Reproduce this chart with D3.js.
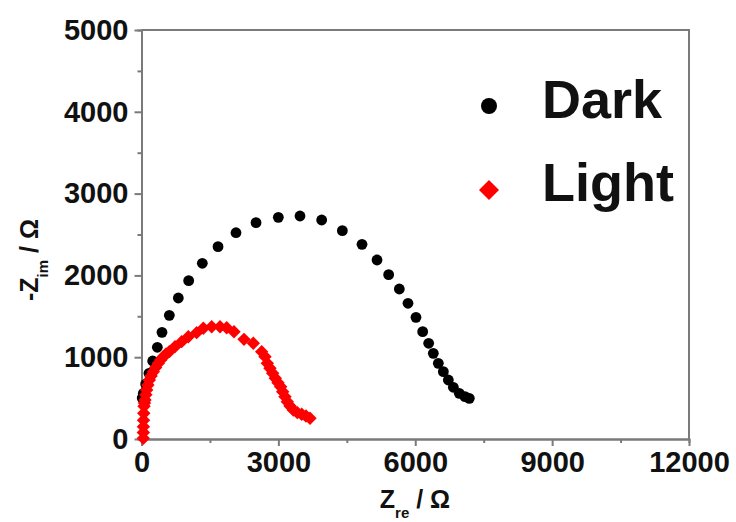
<!DOCTYPE html>
<meta charset="utf-8">
<style>
  body { margin: 0; background: #fff; }
  text { font-family: "Liberation Sans", Arial, sans-serif; font-weight: bold; fill: #111; }
  .axis path, .axis line { stroke: #7a7a7a; stroke-width: 2; }
  .axis text { font-size: 29px; }
  .frame { fill: none; stroke: #7a7a7a; stroke-width: 2; }
</style>
<body>
<script src="https://cdn.jsdelivr.net/npm/d3@7"></script>
<script>
var width = 736, height = 522;
var margin = {left: 141.5, right: 47, top: 30, bottom: 83};

// Dark series: [Z_re, -Z_im] in ohm
var darkRe = [15, 40, 91, 164, 245, 347, 449, 610, 807, 1034, 1333, 1677, 2071, 2510, 2999, 3474, 3949, 4402, 4833, 5162, 5417, 5651, 5841, 6016, 6163, 6294, 6396, 6506, 6616, 6725, 6835, 6966, 7090, 7185];
var darkIm = [500, 558, 672, 803, 954, 1121, 1304, 1512, 1724, 1936, 2148, 2351, 2522, 2645, 2710, 2726, 2677, 2547, 2380, 2188, 2009, 1834, 1659, 1487, 1312, 1170, 1047, 925, 823, 721, 632, 558, 518, 497];

// Light series
var lightRe = [40, 40, 42, 45, 50, 55, 65, 77, 95, 113, 140, 172, 210, 259, 310, 369, 420, 478, 540, 610, 734, 880, 1026, 1209, 1355, 1538, 1721, 1867, 2027, 2247, 2451, 2634, 2707, 2758, 2816, 2875, 2933, 2992, 3050, 3094, 3145, 3196, 3255, 3328, 3416, 3511, 3605, 3693];
var lightIm = [8, 80, 151, 230, 314, 400, 440, 477, 540, 599, 660, 721, 770, 823, 875, 925, 965, 1007, 1040, 1068, 1129, 1190, 1251, 1300, 1353, 1373, 1373, 1361, 1312, 1218, 1170, 1068, 1007, 925, 864, 803, 742, 689, 640, 579, 518, 456, 403, 355, 322, 302, 281, 253];

var xTicks = [0, 3000, 6000, 9000, 12000];
var xMinor = [1500, 4500, 7500, 10500];
var yTicks = [0, 1000, 2000, 3000, 4000, 5000];
var yMinor = [500, 1500, 2500, 3500, 4500];

var svg = d3.select("body").append("svg")
    .attr("width", width)
    .attr("height", height);

var x = d3.scaleLinear().domain([0, 12000]).range([margin.left, width - margin.right]);
var y = d3.scaleLinear().domain([0, 5000]).range([height - margin.bottom, margin.top]);

// minor ticks
svg.append("g").attr("class", "axis")
    .attr("transform", "translate(0," + y(0) + ")")
    .call(d3.axisBottom(x).tickValues(xMinor).tickSize(4).tickFormat(""));
svg.append("g").attr("class", "axis")
    .attr("transform", "translate(" + x(0) + ",0)")
    .call(d3.axisLeft(y).tickValues(yMinor).tickSize(4).tickFormat(""));

svg.append("g").attr("class", "axis")
    .attr("transform", "translate(0," + y(0) + ")")
    .call(d3.axisBottom(x).tickValues(xTicks).tickSize(7).tickPadding(5).tickSizeOuter(0).tickFormat(d3.format("d")));
svg.append("g").attr("class", "axis")
    .attr("transform", "translate(" + x(0) + ",0)")
    .call(d3.axisLeft(y).tickValues(yTicks).tickSize(7).tickPadding(6).tickSizeOuter(0).tickFormat(d3.format("d")));

svg.append("path").attr("class", "frame")
    .attr("d", "M" + x(0) + "," + y(5000) + "H" + x(12000) + "V" + y(0));

// data
svg.append("g").selectAll("circle")
    .data(d3.range(darkRe.length))
  .enter().append("circle")
    .attr("cx", function(i) { return x(darkRe[i]); })
    .attr("cy", function(i) { return y(darkIm[i]); })
    .attr("r", 5.4)
    .attr("fill", "#000");

var diamond = d3.symbol().type(d3.symbolSquare).size(90);
svg.append("g").selectAll("path")
    .data(d3.range(lightRe.length))
  .enter().append("path")
    .attr("d", diamond)
    .attr("transform", function(i) { return "translate(" + x(lightRe[i]) + "," + y(lightIm[i]) + ") rotate(45)"; })
    .attr("fill", "#ff0000");

// legend
var legend = svg.append("g");
legend.append("circle").attr("cx", 489).attr("cy", 106).attr("r", 8).attr("fill", "#000");
legend.append("path")
    .attr("d", d3.symbol().type(d3.symbolSquare).size(200))
    .attr("transform", "translate(489,190) rotate(45)")
    .attr("fill", "#ff0000");
legend.append("text").attr("x", 542).attr("y", 118).style("font-size", "54px").text("Dark");
legend.append("text").attr("x", 542).attr("y", 201).style("font-size", "54px").text("Light");

// axis titles
var xt = svg.append("text")
    .attr("x", 415).attr("y", 508)
    .attr("text-anchor", "middle")
    .style("font-size", "25px");
xt.append("tspan").text("Z");
xt.append("tspan").attr("dy", 10).style("font-size", "15px").text("re");
xt.append("tspan").attr("dy", -10).text(" / Ω");

var yt = svg.append("text")
    .attr("transform", "translate(38,260) rotate(-90)")
    .attr("text-anchor", "middle")
    .style("font-size", "25px");
yt.append("tspan").text("-Z");
yt.append("tspan").attr("dy", 10).style("font-size", "15px").text("im");
yt.append("tspan").attr("dy", -10).text(" / Ω");
</script>
</body>
